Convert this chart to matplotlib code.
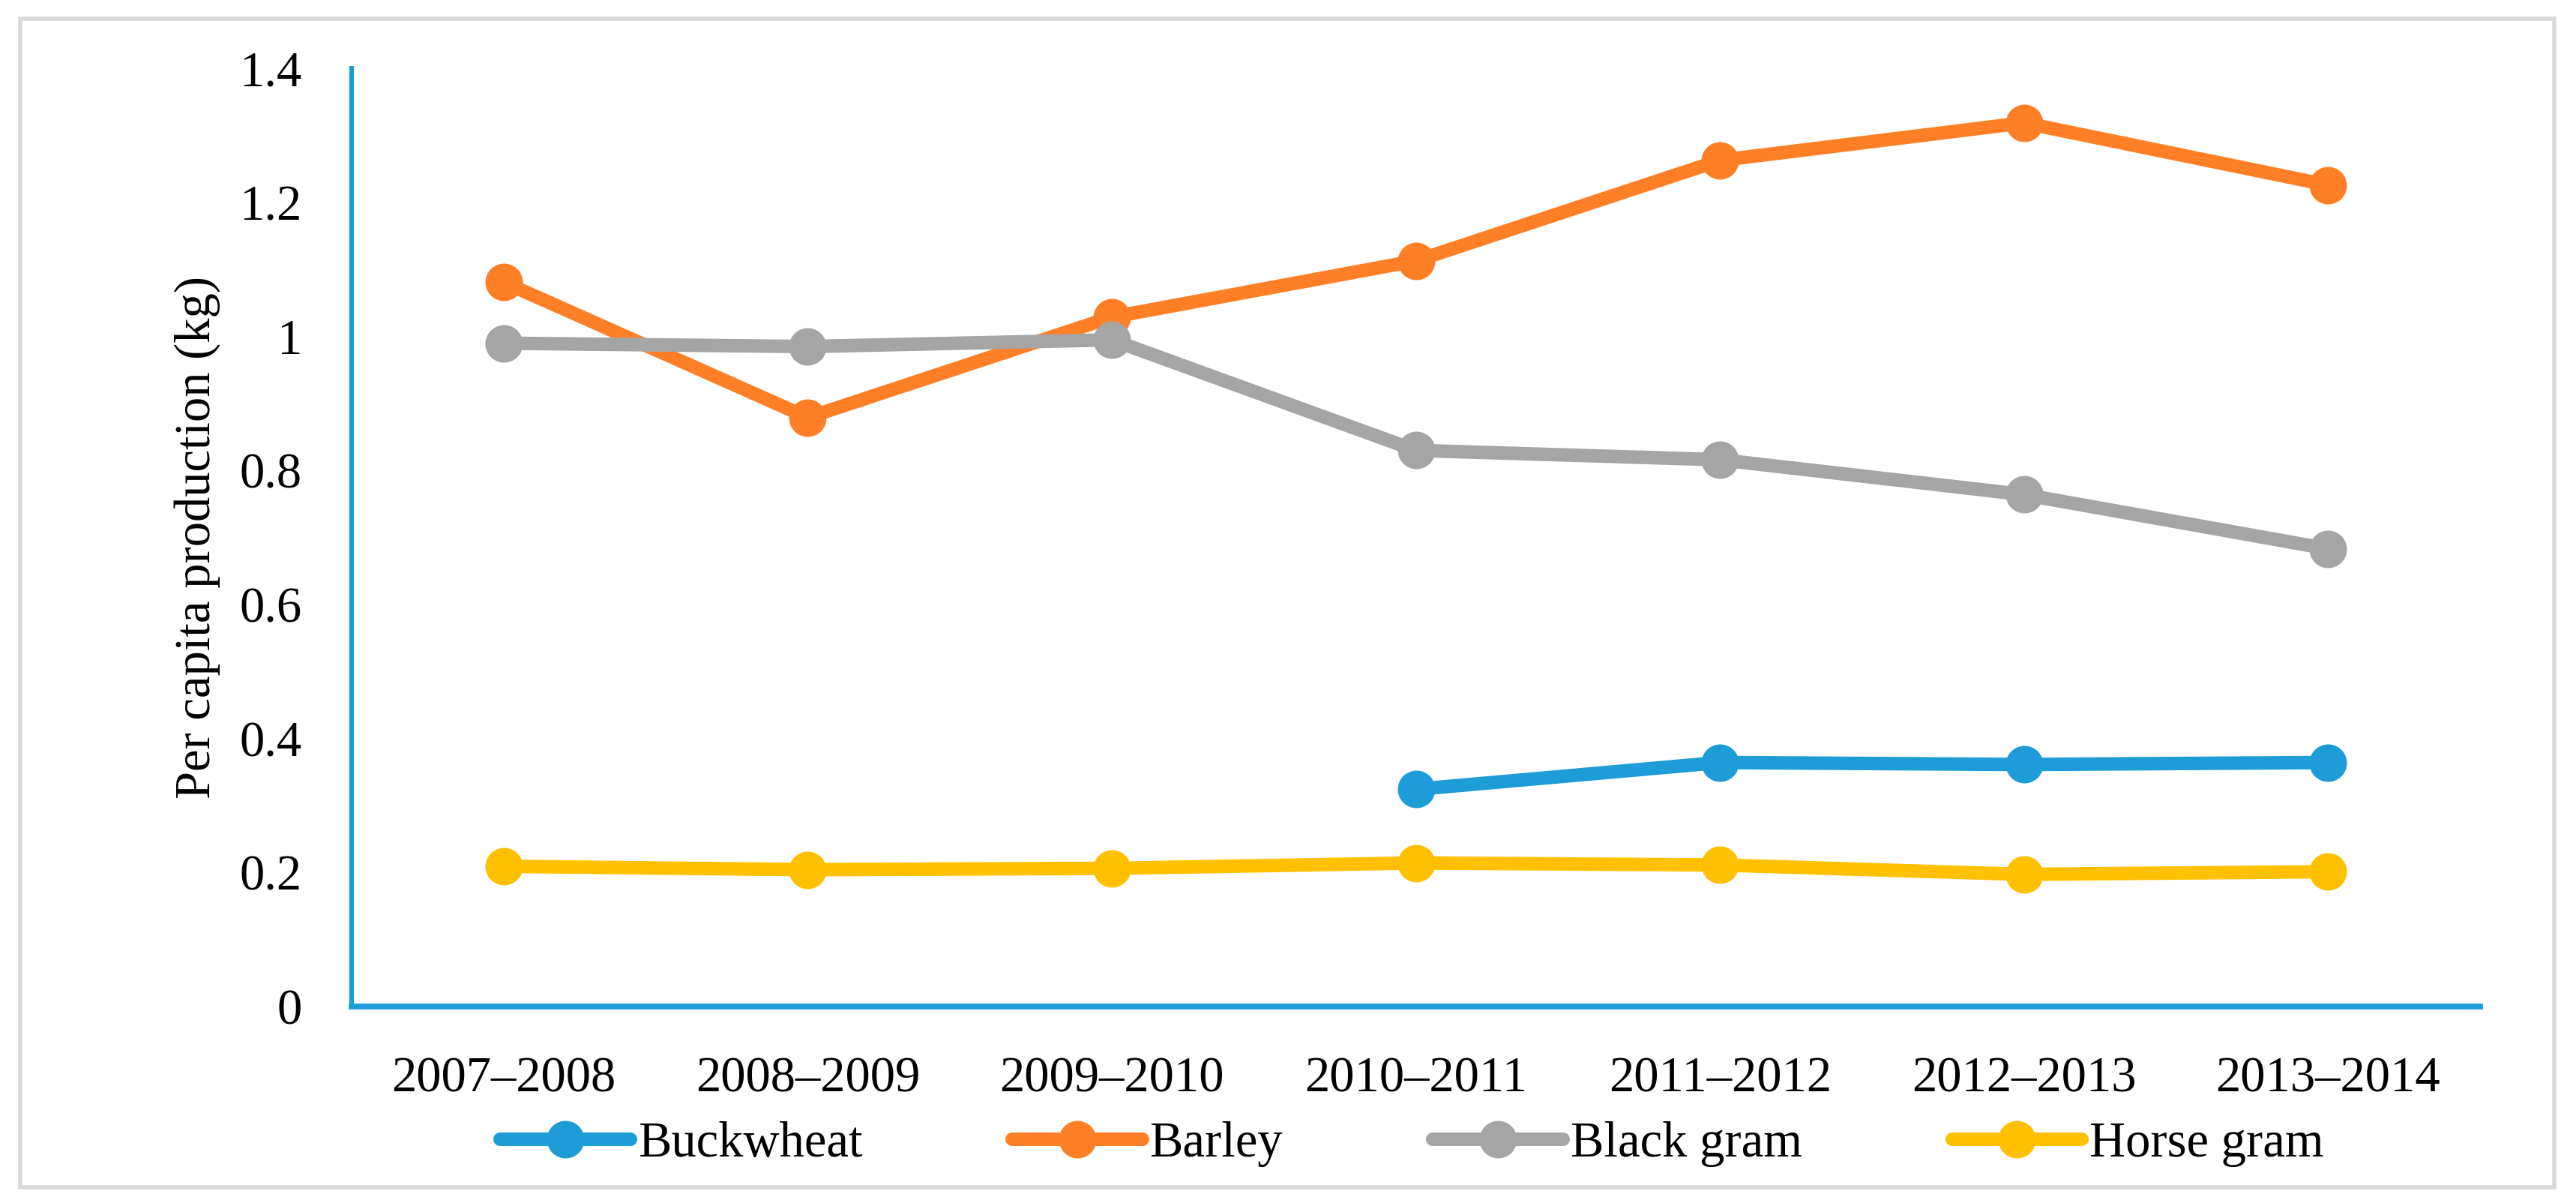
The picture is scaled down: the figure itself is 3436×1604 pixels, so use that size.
#!/usr/bin/env python3
"""Per capita production of minor crops, 2007-2014."""

import numpy as np
import matplotlib

matplotlib.use("Agg")
import matplotlib.pyplot as plt
from matplotlib.patches import Rectangle

years = ["2007–2008", "2008–2009", "2009–2010", "2010–2011",
         "2011–2012", "2012–2013", "2013–2014"]
buckwheat = [np.nan, np.nan, np.nan, 0.324, 0.364, 0.361, 0.364]
barley = [1.081, 0.879, 1.029, 1.113, 1.263, 1.319, 1.226]
black_gram = [0.990, 0.985, 0.995, 0.830, 0.816, 0.764, 0.683]
horse_gram = [0.209, 0.204, 0.206, 0.214, 0.211, 0.197, 0.201]

series = [
    ("Buckwheat", buckwheat, "#1E9CD8"),
    ("Barley", barley, "#FF7F27"),
    ("Black gram", black_gram, "#A5A5A5"),
    ("Horse gram", horse_gram, "#FFC000"),
]

plt.rcParams["font.family"] = ["Liberation Serif", "DejaVu Serif"]
FS = 24

fig = plt.figure(figsize=(17.185, 8.02), dpi=200)
fig.patches.append(Rectangle((0.0079, 0.0131), 0.9834, 0.9713, transform=fig.transFigure,
                             fill=False, edgecolor="#D9D9D9", linewidth=2.0))

ax = fig.add_axes([0.1365, 0.1635, 0.9625 - 0.1365, 0.943 - 0.1635])
x = np.arange(len(years))
for name, vals, color in series:
    ax.plot(x, vals, color=color, linewidth=6.5, marker="o", markersize=17,
            solid_capstyle="round", label=name)

ax.set_xlim(-0.5, len(years) - 0.5)
ax.set_ylim(0, 1.4)
ax.set_yticks(np.arange(0, 1.41, 0.2))
ax.set_yticklabels(["0", "0.2", "0.4", "0.6", "0.8", "1", "1.2", "1.4"])
ax.set_xticks(x)
ax.set_xticklabels(years)
ax.tick_params(axis="both", length=0, labelsize=FS)
ax.tick_params(axis="y", pad=24)
ax.tick_params(axis="x", pad=24)

for side in ("top", "right"):
    ax.spines[side].set_visible(False)
ax.spines["left"].set_color("#1E9CD8")
ax.spines["left"].set_linewidth(2.2)
ax.spines["bottom"].set_color("#1E9CD8")
ax.spines["bottom"].set_linewidth(2.8)

ax.set_ylabel("Per capita production (kg)", fontsize=FS, labelpad=9)

fig.legend(loc="center", bbox_to_anchor=(0.548, 0.049), ncol=4, frameon=False,
           fontsize=FS, handlelength=2.6, handletextpad=0.15, columnspacing=3.0,
           borderaxespad=0)

fig.savefig("out.png", dpi=200)
plt.close(fig)
